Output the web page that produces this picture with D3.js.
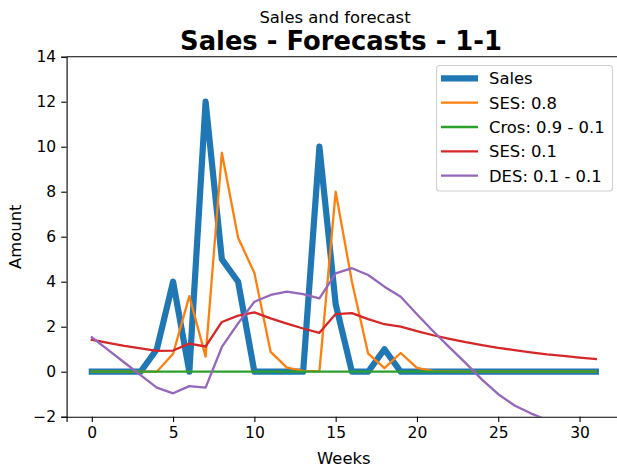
<!DOCTYPE html>
<html>
<head>
<meta charset="utf-8">
<script src="https://cdn.jsdelivr.net/npm/d3@7"></script>
<style>
  body { margin: 0; background: #fff; }
  svg { font-family: "DejaVu Sans", sans-serif; }
</style>
</head>
<body>
<div id="chart"></div>
<script>
// weeks 0..31
const weeks = d3.range(0, 32)
const sales = [0, 0, 0, 0, 1, 4, 0, 12, 5, 4, 0, 0, 0, 0, 10, 3, 0, 0, 1, 0, 0, 0, 0, 0, 0, 0, 0, 0, 0, 0, 0, 0]
const ses08 = [0, 0, 0, 0, 0, 0.8, 3.36, 0.67, 9.73, 5.95, 4.39, 0.88, 0.18, 0.04, 0.01, 8.0, 4.0, 0.8, 0.16, 0.83, 0.17, 0.03, 0.01, 0, 0, 0, 0, 0, 0, 0, 0, 0]
const cros = [0, 0, 0, 0, 0, 0, 0, 0, 0, 0, 0, 0, 0, 0, 0, 0, 0, 0, 0, 0, 0, 0, 0, 0, 0, 0, 0, 0, 0, 0, 0, 0]
const ses01 = [1.42, 1.28, 1.15, 1.04, 0.93, 0.94, 1.25, 1.12, 2.21, 2.49, 2.64, 2.37, 2.14, 1.92, 1.73, 2.56, 2.6, 2.34, 2.11, 2.0, 1.8, 1.62, 1.46, 1.31, 1.18, 1.06, 0.96, 0.86, 0.77, 0.7, 0.63, 0.56]
const des = [1.53, 0.97, 0.41, -0.15, -0.71, -0.96, -0.64, -0.71, 1.1, 2.15, 3.11, 3.41, 3.56, 3.45, 3.26, 4.37, 4.6, 4.3, 3.78, 3.33, 2.55, 1.8, 1.08, 0.38, -0.35, -1.0, -1.5, -1.85, -2.15, -2.4, -2.6, -2.75]
const seriesNames = ["Sales", "SES: 0.8", "Cros: 0.9 - 0.1", "SES: 0.1", "DES: 0.1 - 0.1"]
const seriesColors = ["#1f77b4", "#ff7f0e", "#2ca02c", "#d62728", "#9467bd"]
const xTicks = [0, 5, 10, 15, 20, 25, 30]
const yTicks = [-2, 0, 2, 4, 6, 8, 10, 12, 14]

const width = 617, height = 468
const margin = { left: 66.6, top: 56.7, bottom: 51.3 }
const plotRight = 621

const svg = d3.select("#chart").append("svg")
    .attr("width", width)
    .attr("height", height)

const x = d3.scaleLinear().domain([-1.55, 32.55]).range([margin.left, plotRight])
const y = d3.scaleLinear().domain([-2, 14]).range([height - margin.bottom, margin.top])

svg.append("clipPath").attr("id", "plot-clip")
    .append("rect")
    .attr("x", margin.left)
    .attr("y", margin.top)
    .attr("width", plotRight - margin.left)
    .attr("height", y(-2) - margin.top)

const line = d3.line().x((d, i) => x(weeks[i])).y(d => y(d))
const allSeries = [sales, ses08, cros, ses01, des]
const widths = [6.2, 2.3, 2.3, 2.3, 2.3]

const g = svg.append("g").attr("clip-path", "url(#plot-clip)")
allSeries.forEach((s, k) => {
    g.append("path")
        .datum(s)
        .attr("d", line)
        .attr("fill", "none")
        .attr("stroke", seriesColors[k])
        .attr("stroke-width", widths[k])
        .attr("stroke-linejoin", "round")
        .attr("stroke-linecap", "square")
})

// axes
const xAxis = svg.append("g")
    .attr("transform", "translate(0," + y(-2) + ")")
    .call(d3.axisBottom(x).tickValues(xTicks).tickSizeOuter(0).tickSize(5.4).tickPadding(5))
const yAxis = svg.append("g")
    .attr("transform", "translate(" + margin.left + ",0)")
    .call(d3.axisLeft(y).tickValues(yTicks).tickSizeOuter(0).tickSize(5.4).tickPadding(5))
;[xAxis, yAxis].forEach(a => {
    a.selectAll("text").attr("font-size", "15.5px").attr("fill", "#000").attr("font-family", "DejaVu Sans")
    a.selectAll("line").attr("stroke", "#000").attr("stroke-width", 1.1)
    a.select(".domain").attr("stroke", "#000").attr("stroke-width", 1.1)
})
// top spine
svg.append("line")
    .attr("x1", margin.left).attr("x2", plotRight)
    .attr("y1", margin.top).attr("y2", margin.top)
    .attr("stroke", "#000").attr("stroke-width", 1.1)

// labels
svg.append("text")
    .text("Weeks")
    .attr("x", 343.8).attr("y", 464)
    .attr("text-anchor", "middle")
    .attr("font-size", "16.4px")
svg.append("text")
    .text("Amount")
    .attr("transform", "translate(21,236.7) rotate(-90)")
    .attr("text-anchor", "middle")
    .attr("font-size", "16.4px")
svg.append("text")
    .text("Sales and forecast")
    .attr("x", 335).attr("y", 23)
    .attr("text-anchor", "middle")
    .attr("font-size", "16.4px")
svg.append("text")
    .text("Sales - Forecasts - 1-1")
    .attr("x", 341).attr("y", 50)
    .attr("text-anchor", "middle")
    .attr("font-size", "25.8px")
    .attr("font-weight", "bold")

// legend
const legend = svg.append("g")
legend.append("rect")
    .attr("x", 436.5).attr("y", 65.5)
    .attr("width", 176).attr("height", 125.5)
    .attr("rx", 3)
    .attr("fill", "#fff").attr("fill-opacity", 0.8)
    .attr("stroke", "#d0d0d0").attr("stroke-width", 1.1)
seriesNames.forEach((name, k) => {
    const ly = 78.3 + k * 24.35
    legend.append("line")
        .attr("x1", 441).attr("x2", 478)
        .attr("y1", ly).attr("y2", ly)
        .attr("stroke", seriesColors[k])
        .attr("stroke-width", widths[k])
    legend.append("text")
        .text(name)
        .attr("x", 489).attr("y", ly)
        .attr("dy", "0.36em")
        .attr("font-size", "16.4px")
})
</script>
</body>
</html>
